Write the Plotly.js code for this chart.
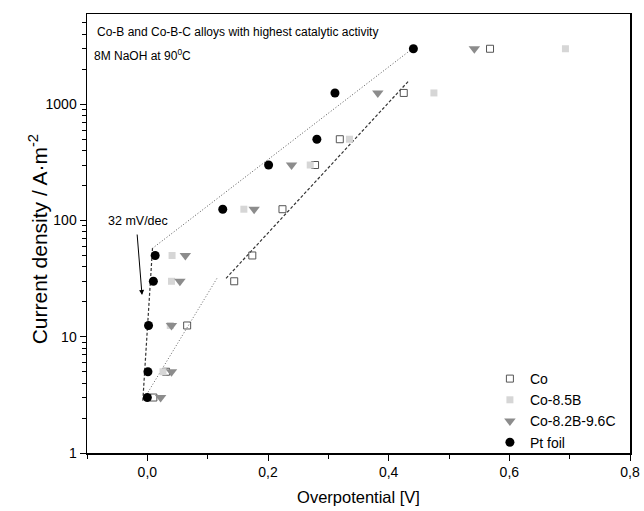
<!DOCTYPE html>
<html><head><meta charset="utf-8">
<script src="https://cdn.plot.ly/plotly-3.0.1.min.js"></script>
<style>html,body{margin:0;padding:0;background:#fff}</style>
</head><body><div id="chart" style="width:644px;height:511px"></div>
<script>
// Current density levels (A·m^-2)
const currentDensity = [3, 5, 12.5, 30, 50, 125, 300, 500, 1250, 3000];
// Overpotential (V) per series (null = point not shown)
const coX       = [0.010, 0.031, 0.066, 0.144, 0.174, 0.224, 0.278, 0.319, 0.425, 0.568];
const co85BX    = [null,  0.026, 0.038, 0.040, 0.041, 0.160, 0.270, 0.335, 0.475, 0.693];
const co82B96CX = [0.022, 0.040, 0.040, 0.054, 0.063, 0.177, 0.239, null,  0.382, 0.542];
const ptX       = [0.000, 0.001, 0.002, 0.010, 0.013, 0.125, 0.201, 0.281, 0.311, 0.441];
// Fit lines
const ptTafelX = [0.0086, -0.0076], ptTafelY = [58, 2.76];
const ptHighX  = [0.0083, 0.4405],  ptHighY  = [57.5, 3035];
const coLowX   = [-0.0066, 0.116],  coLowY   = [2.86, 32.2];
const coHighX  = [0.1305, 0.4333],  coHighY  = [31.8, 1589];
const yTickVals = [1, 10, 100, 1000];
const yTickText = ['1', '10', '100', '1000'];
const xTickVals = [0, 0.2, 0.4, 0.6, 0.8];
const xTickText = ['0,0', '0,2', '0,4', '0,6', '0,8'];

const minorY = [];
[1, 10, 100, 1000].forEach(d => { for (let k = 2; k <= 9; k++) minorY.push(k * d); });

const font = 'Liberation Sans, Arial, sans-serif';
const traces = [
  {x: ptTafelX, y: ptTafelY, mode: 'lines', line: {color: '#333', width: 1.2, dash: '3px,2px'}, showlegend: false, hoverinfo: 'skip'},
  {x: ptHighX, y: ptHighY, mode: 'lines', line: {color: '#555', width: 1, dash: '1px,2px'}, showlegend: false, hoverinfo: 'skip'},
  {x: coLowX, y: coLowY, mode: 'lines', line: {color: '#666', width: 1, dash: '1px,2px'}, showlegend: false, hoverinfo: 'skip'},
  {x: coHighX, y: coHighY, mode: 'lines', line: {color: '#333', width: 1.2, dash: '3px,2px'}, showlegend: false, hoverinfo: 'skip'},
  {x: coX, y: currentDensity, name: 'Co', mode: 'markers', marker: {symbol: 'square-open', size: 7, color: '#555', line: {width: 1}}},
  {x: co85BX, y: currentDensity, name: 'Co-8.5B', mode: 'markers', marker: {symbol: 'square', size: 7, color: '#d6d6d6'}},
  {x: co82B96CX, y: currentDensity, name: 'Co-8.2B-9.6C', mode: 'markers', marker: {symbol: 'triangle-down', size: 10, color: '#8c8c8c'}},
  {x: ptX, y: currentDensity, name: 'Pt foil', mode: 'markers', marker: {symbol: 'circle', size: 9, color: '#000'}}
];

const layout = {
  width: 644, height: 511,
  margin: {l: 87, r: 14, t: 14, b: 58},
  paper_bgcolor: '#fff', plot_bgcolor: '#fff',
  separators: ',.',
  font: {family: font, color: '#000', size: 14},
  showlegend: true,
  legend: {x: 0.742, y: 0.205, xanchor: 'left', yanchor: 'top', bgcolor: 'rgba(0,0,0,0)',
           font: {family: font, size: 14}, tracegroupgap: 0},
  xaxis: {
    range: [-0.1, 0.8], showgrid: false, zeroline: false,
    showline: true, linecolor: '#000', linewidth: 1.5, mirror: true,
    ticks: 'outside', ticklen: 6, tickwidth: 1, tickcolor: '#000',
    tickvals: xTickVals, ticktext: xTickText, tickfont: {size: 14},
    minor: {tickvals: [-0.1, 0.1, 0.3, 0.5, 0.7], ticks: 'outside', ticklen: 4, tickcolor: '#000', showgrid: false},
    title: {text: 'Overpotential [V]', font: {size: 16.5}, standoff: 12}
  },
  yaxis: {
    type: 'log', range: [0, 3.776], showgrid: false, zeroline: false,
    showline: true, linecolor: '#000', linewidth: 1.5, mirror: true,
    ticks: 'outside', ticklen: 6, tickwidth: 1, tickcolor: '#000',
    tickvals: yTickVals, ticktext: yTickText, tickfont: {size: 14},
    minor: {tickvals: minorY, ticks: 'outside', ticklen: 4, tickcolor: '#000', showgrid: false}
  },
  annotations: [
    {xref: 'paper', yref: 'paper', x: -0.09, y: 0.487, xanchor: 'center', yanchor: 'middle', showarrow: false,
     textangle: -90, text: 'Current density / A·m<sup>-2</sup>', font: {size: 21}},
    {xref: 'paper', yref: 'paper', x: 0.0147, y: 0.9597, xanchor: 'left', yanchor: 'middle', showarrow: false,
     text: 'Co-B and Co-B-C alloys with highest catalytic activity', font: {size: 12}},
    {xref: 'paper', yref: 'paper', x: 0.0087, y: 0.9066, xanchor: 'left', yanchor: 'middle', showarrow: false,
     text: '8M NaOH at 90<sup>0</sup>C', font: {size: 12}},
    {xref: 'x', yref: 'y', x: -0.016, y: 1.995, xanchor: 'center', yanchor: 'middle', showarrow: false,
     text: '32 mV/dec', font: {size: 12.5}},
    {xref: 'x', yref: 'y', x: -0.0088, y: 1.359, axref: 'x', ayref: 'y', ax: -0.0171, ay: 1.892,
     showarrow: true, arrowhead: 2, arrowsize: 1, arrowwidth: 1, arrowcolor: '#000', text: ''}
  ]
};
Plotly.newPlot('chart', traces, layout, {displayModeBar: false, staticPlot: true});
</script></body></html>
